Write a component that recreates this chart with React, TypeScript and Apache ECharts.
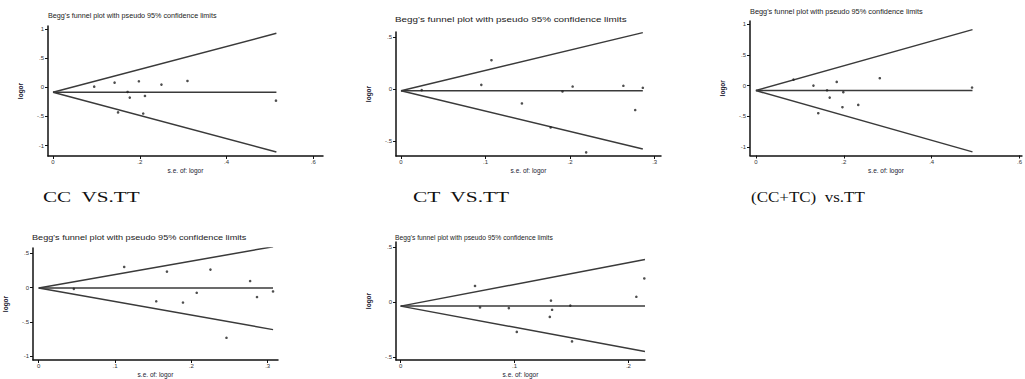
import React, { useEffect, useRef } from "react";
import * as echarts from "echarts";

const TITLE = "Begg's funnel plot with pseudo 95% confidence limits";
const CAPTIONS = ["CC  VS.TT", "CT  VS.TT", "(CC+TC)  vs.TT"];
const X_NAME = "s.e. of: logor";
const Y_NAME = "logor";

// Panel 1: CC vs TT
const p1Se = [0.095, 0.142, 0.198, 0.25, 0.31, 0.172, 0.177, 0.212, 0.15, 0.208, 0.514];
const p1Lor = [0.011, 0.08, 0.103, 0.046, 0.109, -0.08, -0.177, -0.149, -0.43, -0.45, -0.229];
const p1Funnel = { est: -0.086, seMax: 0.515, upper: 0.925, lower: -1.11 };

// Panel 2: CT vs TT
const p2Se = [0.0245, 0.095, 0.107, 0.143, 0.177, 0.191, 0.203, 0.219, 0.263, 0.277, 0.286];
const p2Lor = [-0.01, 0.041, 0.277, -0.137, -0.366, -0.022, 0.025, -0.605, 0.032, -0.2, 0.013];
const p2Funnel = { est: -0.016, seMax: 0.286, upper: 0.541, lower: -0.573 };

// Panel 3: (CC+TC) vs TT
const p3Se = [0.0857, 0.131, 0.184, 0.162, 0.199, 0.168, 0.197, 0.233, 0.142, 0.282, 0.492];
const p3Lor = [0.097, 0.0, 0.059, -0.076, -0.108, -0.195, -0.351, -0.314, -0.449, 0.119, -0.032];
const p3Funnel = { est: -0.081, seMax: 0.493, upper: 0.908, lower: -1.076 };

// Panel 4
const p4Se = [0.046, 0.112, 0.168, 0.154, 0.189, 0.207, 0.225, 0.246, 0.277, 0.286, 0.307];
const p4Lor = [-0.019, 0.3, 0.233, -0.2, -0.219, -0.076, 0.262, -0.733, 0.095, -0.138, -0.057];
const p4Funnel = { est: -0.005, seMax: 0.307, upper: 0.595, lower: -0.614 };

// Panel 5
const p5Se = [0.0653, 0.0697, 0.095, 0.102, 0.132, 0.133, 0.131, 0.149, 0.1505, 0.207, 0.214];
const p5Lor = [0.145, -0.05, -0.056, -0.272, 0.012, -0.071, -0.136, -0.033, -0.358, 0.047, 0.213];
const p5Funnel = { est: -0.038, seMax: 0.2146, upper: 0.385, lower: -0.45 };

// Tick labels
const xTicksWide = [0, 0.2, 0.4, 0.6];
const xTicksNarrow = [0, 0.1, 0.2, 0.3];
const xTicksP5 = [0, 0.1, 0.2];
const yTicksWide = [-1, -0.5, 0, 0.5, 1];
const yTicksHalf = [-0.5, 0, 0.5];
const yTicksP4 = [-1, -0.5, 0, 0.5];

const SMALL_FONT = "Liberation Sans";
const SERIF_FONT = "Liberation Serif";

const panels = [
  { se: p1Se, lor: p1Lor, f: p1Funnel, xTicks: xTicksWide, yTicks: yTicksWide,
    x: [-0.0115, 0.6224], y: [-1.178, 1.051],
    grid: { left: 48, top: 26, width: 275, height: 130 },
    title: { x: 48, y: 16, w: 169 } },
  { se: p2Se, lor: p2Lor, f: p2Funnel, xTicks: xTicksNarrow, yTicks: yTicksHalf,
    x: [-0.0059, 0.3075], y: [-0.64, 0.547],
    grid: { left: 396, top: 32, width: 265, height: 124 },
    title: { x: 395, y: 20, w: 232 } },
  { se: p3Se, lor: p3Lor, f: p3Funnel, xTicks: xTicksWide, yTicks: yTicksWide,
    x: [-0.0134, 0.6056], y: [-1.135, 1.048],
    grid: { left: 750, top: 21, width: 277, height: 134.5 },
    title: { x: 750, y: 12, w: 173 } },
  { se: p4Se, lor: p4Lor, f: p4Funnel, xTicks: xTicksNarrow, yTicks: yTicksP4,
    x: [-0.0075, 0.3135], y: [-1.057, 0.577],
    grid: { left: 33, top: 248, width: 245, height: 115 },
    title: { x: 32, y: 238, w: 215 } },
  { se: p5Se, lor: p5Lor, f: p5Funnel, xTicks: xTicksP5, yTicks: yTicksHalf,
    x: [-0.0041, 0.2146], y: [-0.527, 0.544],
    grid: { left: 396, top: 242, width: 249, height: 121 },
    title: { x: 395, y: 237, w: 158 } },
];

const captionPos = [
  { x: 43, y: 197, w: 97 },
  { x: 413, y: 197, w: 97 },
  { x: 751, y: 197, w: 114 },
];

const fmt = (v: number) => (v === 0 ? "0" : String(v).replace(/^(-?)0\./, "$1."));

function measure(text: string, font: string): number {
  const ctx = document.createElement("canvas").getContext("2d");
  if (!ctx) return 1;
  ctx.font = font;
  return ctx.measureText(text).width || 1;
}

export default function App() {
  const ref = useRef<HTMLDivElement>(null);
  useEffect(() => {
    if (!ref.current) return;
    const chart = echarts.init(ref.current, undefined, { renderer: "svg" });

    const titleSize = 7;
    const titleW = measure(TITLE, `${titleSize}px "${SMALL_FONT}"`);
    const capSize = 15;

    const grids: any[] = [];
    const xAxes: any[] = [];
    const yAxes: any[] = [];
    const series: any[] = [];
    const graphics: any[] = [];

    panels.forEach((p, i) => {
      grids.push({ ...p.grid, containLabel: false });
      const axisCommon = {
        axisLine: { show: true, onZero: false, lineStyle: { color: "#111", width: 1.5 } },
        splitLine: { show: false },
        nameTextStyle: { fontFamily: SMALL_FONT, fontSize: 6.5, color: "#223" },
      };
      xAxes.push({
        type: "value",
        gridIndex: i,
        position: "bottom",
        min: p.x[0],
        max: p.x[1],
        name: X_NAME,
        nameLocation: "middle",
        nameGap: 11,
        ...axisCommon,
        axisTick: { show: true, length: 3, customValues: p.xTicks, lineStyle: { color: "#111", width: 1 } },
        axisLabel: { show: true, customValues: p.xTicks, formatter: fmt, fontSize: 6, fontFamily: SMALL_FONT, color: "#333", margin: 3 },
      });
      yAxes.push({
        type: "value",
        gridIndex: i,
        position: "left",
        min: p.y[0],
        max: p.y[1],
        name: Y_NAME,
        nameLocation: "middle",
        nameGap: 24,
        nameRotate: 90,
        ...axisCommon,
        nameTextStyle: { fontFamily: SMALL_FONT, fontSize: 6.5, color: "#223", fontWeight: "bold" },
        axisTick: { show: true, length: 3, customValues: p.yTicks, lineStyle: { color: "#111", width: 1 } },
        axisLabel: { show: true, customValues: p.yTicks, formatter: fmt, fontSize: 6, fontFamily: SMALL_FONT, color: "#333", margin: 4 },
      });
      const lineStyle = { color: "#3a3a3a", width: 1.5 };
      const mkLine = (data: number[][]) => ({
        type: "line",
        xAxisIndex: i,
        yAxisIndex: i,
        data,
        symbol: "none",
        lineStyle,
        silent: true,
        z: 2,
      });
      series.push(mkLine([[0, p.f.est], [p.f.seMax, p.f.est]]));
      series.push(mkLine([[0, p.f.est], [p.f.seMax, p.f.upper]]));
      series.push(mkLine([[0, p.f.est], [p.f.seMax, p.f.lower]]));
      series.push({
        type: "scatter",
        xAxisIndex: i,
        yAxisIndex: i,
        data: p.se.map((s, k) => [s, p.lor[k]]),
        symbol: "circle",
        symbolSize: 2.6,
        itemStyle: { color: "#222" },
        z: 3,
      });
      graphics.push({
        type: "text",
        x: p.title.x,
        y: p.title.y,
        scaleX: p.title.w / titleW,
        style: {
          text: TITLE,
          fontSize: titleSize,
          fontFamily: SMALL_FONT,
          fill: "#222",
          align: "left",
          verticalAlign: "middle",
        },
      });
    });

    CAPTIONS.forEach((c, i) => {
      const pos = captionPos[i];
      const w = measure(c, `${capSize}px "${SERIF_FONT}"`);
      graphics.push({
        type: "text",
        x: pos.x,
        y: pos.y,
        scaleX: pos.w / w,
        style: {
          text: c,
          fontSize: capSize,
          fontFamily: SERIF_FONT,
          fill: "#111",
          align: "left",
          verticalAlign: "middle",
        },
      });
    });

    chart.setOption({
      animation: false,
      backgroundColor: "#ffffff",
      grid: grids,
      xAxis: xAxes,
      yAxis: yAxes,
      series,
      graphic: graphics,
    });
    return () => chart.dispose();
  }, []);
  return (
    <div
      ref={ref}
      style={{ position: "absolute", left: 0, top: 0, width: 1025, height: 379 }}
    />
  );
}
